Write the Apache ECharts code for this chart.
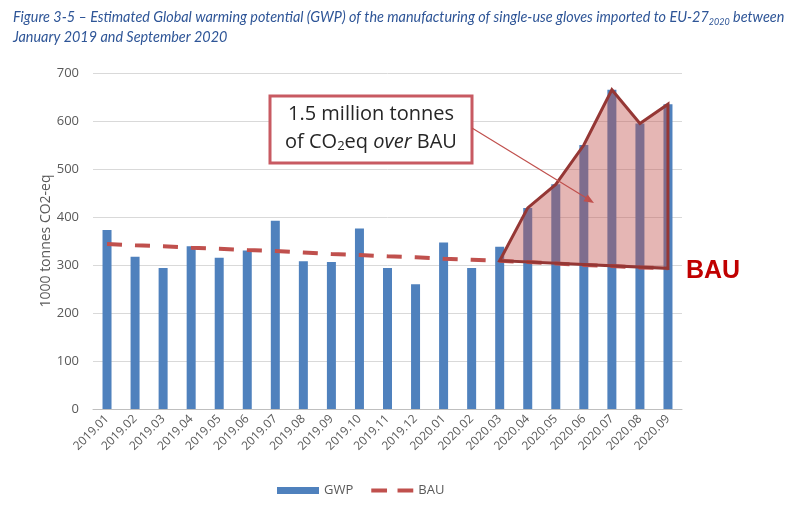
<!DOCTYPE html>
<html><head><meta charset="utf-8">
<script src="https://cdn.jsdelivr.net/npm/echarts@6/dist/echarts.min.js"></script>
<style>html,body{margin:0;padding:0;background:#fff}#c{width:808px;height:515px}</style>
</head><body><div id="c"></div>
<script>
const categories = ['2019.01','2019.02','2019.03','2019.04','2019.05','2019.06','2019.07','2019.08','2019.09','2019.10','2019.11','2019.12','2020.01','2020.02','2020.03','2020.04','2020.05','2020.06','2020.07','2020.08','2020.09'];
const gwp = [373,317,294,339,315,330,392,308,306,376,294,260,347,294,338,419,468,550,665,595,635];
const bau = [344,341,339,336,334,331,329,326,323,321,318,316,313,311,309,306,303,300,298,295,293];
const excessStart = 14; // 2020.03
const yTicks = [0,100,200,300,400,500,600,700];

const chart = echarts.init(document.getElementById('c'));
const grey = '#595959';
chart.setOption({
  animation: false,
  title: {
    left: 8, top: 2,
    text: 'Figure 3-5 – Estimated Global warming potential (GWP) of the manufacturing of single-use gloves imported to EU-27{s|2020} between\nJanuary 2019 and September 2020',
    textStyle: {
      fontFamily: 'Lato', fontStyle: 'italic', fontWeight: 'normal', fontSize: 14.4, color: '#2E5597', lineHeight: 20,
      rich: { s: { fontFamily: 'Lato', fontStyle: 'italic', fontSize: 9, color: '#2E5597', verticalAlign: 'bottom', padding: [6,0,0,0] } }
    }
  },
  grid: { left: 93, right: 126, top: 73, bottom: 106 },
  legend: {
    bottom: 13, left: 272, itemGap: 18, itemWidth: 42, itemHeight: 7,
    textStyle: { color: grey, fontSize: 13, fontFamily: 'Open Sans' },
    data: [{ name: 'GWP', icon: 'rect' },
           { name: 'BAU', icon: 'path://M0,0 h15 v4 h-15z M25,0 h15 v4 h-15z', itemStyle: { color: '#C0504D' } }]
  },
  xAxis: {
    type: 'category', data: categories,
    axisLine: { lineStyle: { color: '#BFBFBF' } },
    axisTick: { show: false },
    axisLabel: { rotate: 45, color: grey, fontSize: 12, fontFamily: 'Open Sans', interval: 0, margin: 8 }
  },
  yAxis: {
    type: 'value', min: 0, max: 700, interval: 100,
    name: '1000 tonnes CO2-eq', nameLocation: 'middle', nameGap: 40, nameMoveOverlap: false,
    nameTextStyle: { color: grey, fontSize: 14, fontFamily: 'Open Sans' },
    axisLabel: { color: grey, fontSize: 13, fontFamily: 'Open Sans', margin: 14 },
    splitLine: { lineStyle: { color: '#D9D9D9' } },
    axisLine: { show: false }, axisTick: { show: false }
  },
  series: [
    { name: 'GWP', type: 'bar', data: gwp, barWidth: 9, itemStyle: { color: '#4F81BD' }, z: 2 },
    { name: 'BAU', type: 'line', data: bau, symbol: 'none', z: 3,
      lineStyle: { color: '#C0504D', width: 4, type: [15, 13] }, itemStyle: { color: '#C0504D' } },
    { name: 'excess', type: 'custom', z: 5, data: [0],
      renderItem: function (params, api) {
        const pts = [api.coord([excessStart, bau[excessStart]])];
        for (let i = excessStart + 1; i < gwp.length; i++) pts.push(api.coord([i, gwp[i]]));
        pts.push(api.coord([gwp.length - 1, bau[gwp.length - 1]]));
        return { type: 'polygon', shape: { points: pts },
          style: { fill: 'rgba(192,80,77,0.42)', stroke: '#953735', lineWidth: 3, lineJoin: 'miter' } };
      }
    }
  ],
  graphic: [
    { type: 'rect', z: 10, shape: { x: 270, y: 96, width: 202, height: 67 },
      style: { fill: '#fff', stroke: '#C85A62', lineWidth: 3 } },
    { type: 'text', z: 11, x: 371, y: 104,
      style: { text: '1.5 million tonnes', align: 'center', fill: '#262626', fontSize: 20, fontFamily: 'Open Sans' } },
    { type: 'text', z: 11, x: 371, y: 131,
      style: { text: 'of CO{sub|2}eq {it|over} BAU', align: 'center', fill: '#262626', fontSize: 20, fontFamily: 'Open Sans',
        rich: { sub: { fontSize: 13, fill: '#262626', fontFamily: 'Open Sans', verticalAlign: 'bottom', padding: [9,0,0,0] },
                it: { fontStyle: 'italic', fontSize: 20, fill: '#262626', fontFamily: 'Open Sans' } } } },
    { type: 'line', z: 11, shape: { x1: 472, y1: 128, x2: 588, y2: 199 }, style: { stroke: '#C0504D', lineWidth: 1.2 } },
    { type: 'polygon', z: 11, shape: { points: [[594,203],[583.4,201.2],[587.6,194.4]] }, style: { fill: '#C0504D' } },
    { type: 'text', z: 11, left: 686, top: 259,
      style: { text: 'BAU', fill: '#C00000', fontSize: 25, fontWeight: 'bold', fontFamily: 'Liberation Sans' } }
  ]
});
</script></body></html>
